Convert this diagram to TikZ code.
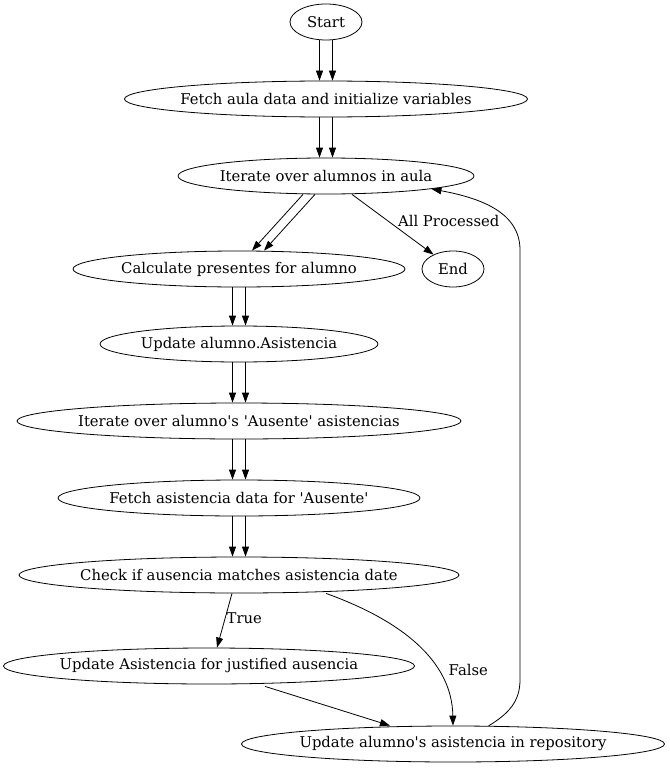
\documentclass[tikz,border=0pt]{standalone}
\usepackage{fontspec}
\setmainfont{DejaVu Serif}
\usetikzlibrary{shapes.geometric,arrows.meta}
\tikzset{
  st/.style={draw, ellipse, inner sep=0pt, minimum height=36pt, font=\fontsize{14.8}{17}\selectfont},
  ar/.style={draw, line width=0.8pt, -{Triangle[length=10pt,width=7pt]}},
  lbl/.style={font=\fontsize{14.8}{17}\selectfont, inner sep=1pt}
}
\newcommand{\sq}{\textquotesingle}
\newcommand{\zt}[1]{\makebox[0pt]{#1}}
\begin{document}
\begin{tikzpicture}[x=1pt,y=-1pt, line width=0.8pt]
\useasboundingbox (0,0) rectangle (669,768);
\node[st, minimum width=72pt]  (start) at (326,22) {\zt{Start}};
\node[st, minimum width=403pt] (fetch) at (326,99) {\zt{Fetch aula data and initialize variables}};
\node[st, minimum width=296pt] (iter)  at (326,176) {\zt{Iterate over alumnos in aula}};
\node[st, minimum width=332pt] (calc)  at (239,269) {\zt{Calculate presentes for alumno}};
\node[st, minimum width=62pt]  (endn)  at (453,269) {\zt{End}};
\node[st, minimum width=278pt] (upd)   at (239,344) {\zt{Update alumno.Asistencia}};
\node[st, minimum width=444pt] (iter2) at (239,421) {\zt{Iterate over alumno\sq s \sq Ausente\sq{} asistencias}};
\node[st, minimum width=362pt] (fasis) at (239,498) {\zt{Fetch asistencia data for \sq Ausente\sq}};
\node[st, minimum width=440pt] (check) at (239,575) {\zt{Check if ausencia matches asistencia date}};
\node[st, minimum width=411pt] (just)  at (209,666) {\zt{Update Asistencia for justified ausencia}};
\node[st, minimum width=423pt] (repo)  at (453,744) {\zt{Update alumno\sq s asistencia in repository}};

\foreach \s in {-6.5,6.5}{
  \draw[ar] ([xshift=\s]start.south) -- ([xshift=\s]fetch.north);
  \draw[ar] ([xshift=\s]fetch.south) -- ([xshift=\s]iter.north);
  \draw[ar] ([xshift=\s]calc.south) -- ([xshift=\s]upd.north);
  \draw[ar] ([xshift=\s]upd.south) -- ([xshift=\s]iter2.north);
  \draw[ar] ([xshift=\s]iter2.south) -- ([xshift=\s]fasis.north);
  \draw[ar] ([xshift=\s]fasis.south) -- ([xshift=\s]check.north);
}
\draw[ar] ([xshift=-23pt]iter.south) -- ([xshift=13pt]calc.north);
\draw[ar] ([xshift=-11pt]iter.south) -- ([xshift=25pt]calc.north);
\draw[ar] ([xshift=26pt]iter.south) -- node[lbl, pos=0.5, anchor=west, xshift=4pt, yshift=4pt] {All Processed} (endn);
\draw[ar] ([xshift=-7pt]check.south) -- node[lbl, pos=0.45, anchor=west] {True} ([xshift=8pt]just.north);
\draw[ar] ([xshift=87pt]check.south) .. controls (400,620) and (452,660) .. node[lbl, pos=0.68, anchor=west, xshift=10pt] {False} (repo.north);
\draw[ar] ([xshift=56pt,yshift=-2pt]just.south) -- ([xshift=-63pt]repo.north);
\draw[ar] (repo.27) .. controls (508,714) and (520,702) .. (520,680) -- (520,250) .. controls (520,212) and (480,198) .. (iter.-7);
\end{tikzpicture}
\end{document}
